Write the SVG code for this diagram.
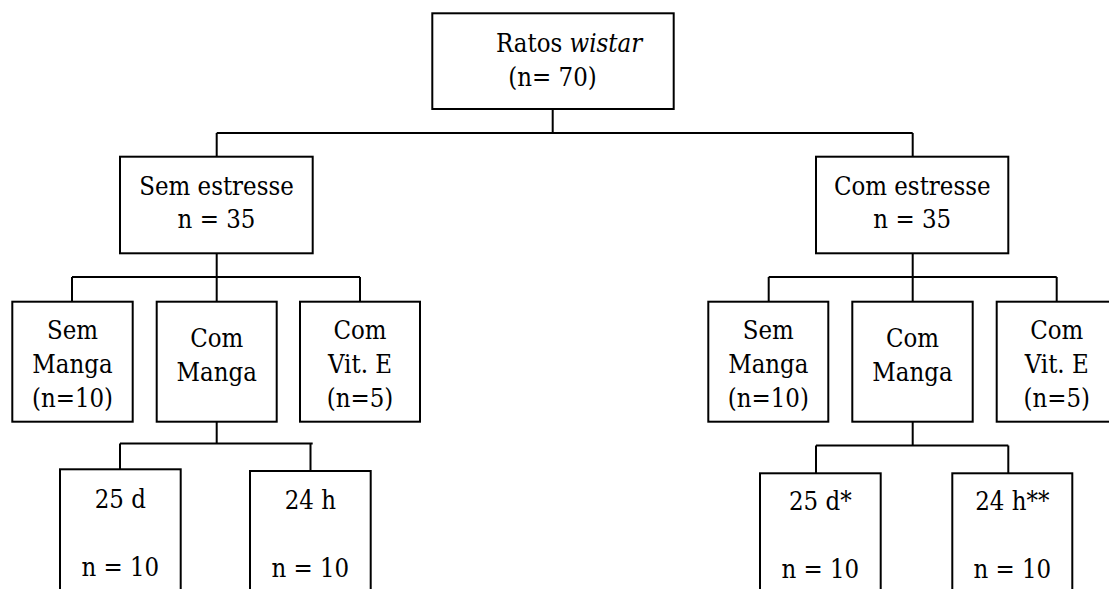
<svg xmlns="http://www.w3.org/2000/svg" width="1109" height="589" viewBox="0 0 1109 589">
<style>
.box{fill:#fff;stroke:#000;stroke-width:2}
.ln{fill:none;stroke:#000;stroke-width:2}
text{font-family:'DejaVu Serif Condensed','DejaVu Serif',serif;font-stretch:condensed;font-size:25.5px;fill:#000}
.c{text-anchor:middle}
</style>
<rect width="1109" height="589" fill="#fff"/>
<g id="connectors">
<path class="ln" d="M552.7 109V133M216.7 133H912.7M216.7 133V157M912.7 133V157"/>
<path class="ln" d="M216.7 253V277M72 277H360M72 277V302M216.7 277V302M360 277V302"/>
<path class="ln" d="M912.7 253V277M768.7 277H1056.7M768.7 277V302M912.7 277V302M1056.7 277V302"/>
<path class="ln" d="M216.7 422V443.5M120 443.5H312.7M120 443.5V469.5M310.5 443.5V471"/>
<path class="ln" d="M912.7 422V445.5M816 445.5H1008.3M816 445.5V473.5M1008.3 445.5V473.5"/>
</g>
<g id="root">
<rect class="box" x="432.3" y="13.3" width="241.4" height="95.7"/>
<text x="496" y="51.7">Ratos <tspan font-style="italic">wistar</tspan></text>
<text x="508.3" y="86">(n= 70)</text>
</g>
<g id="sem-estresse">
<rect class="box" x="120" y="156.7" width="192.7" height="96.6"/>
<text class="c" x="216.5" y="195">Sem estresse</text>
<text class="c" x="216.5" y="227.5">n = 35</text>
</g>
<g id="com-estresse">
<rect class="box" x="816" y="156.7" width="192.3" height="96.6"/>
<text class="c" x="912.2" y="195">Com estresse</text>
<text class="c" x="912.2" y="227.5">n = 35</text>
</g>
<g id="l-sem-manga">
<rect class="box" x="12.3" y="301.7" width="120.4" height="120"/>
<text class="c" x="72.5" y="339">Sem</text>
<text class="c" x="72.5" y="373">Manga</text>
<text class="c" x="72.5" y="407">(n=10)</text>
</g>
<g id="l-com-manga">
<rect class="box" x="156.7" y="301.7" width="120" height="120"/>
<text class="c" x="216.7" y="347">Com</text>
<text class="c" x="216.7" y="381">Manga</text>
</g>
<g id="l-com-vite">
<rect class="box" x="300" y="301.7" width="120" height="120"/>
<text class="c" x="360" y="339">Com</text>
<text class="c" x="360" y="373">Vit. E</text>
<text class="c" x="360" y="407">(n=5)</text>
</g>
<g id="r-sem-manga">
<rect class="box" x="708.3" y="301.7" width="120" height="120"/>
<text class="c" x="768.3" y="339">Sem</text>
<text class="c" x="768.3" y="373">Manga</text>
<text class="c" x="768.3" y="407">(n=10)</text>
</g>
<g id="r-com-manga">
<rect class="box" x="852.3" y="301.7" width="120.4" height="120"/>
<text class="c" x="912.5" y="347">Com</text>
<text class="c" x="912.5" y="381">Manga</text>
</g>
<g id="r-com-vite">
<rect class="box" x="996.7" y="301.7" width="120" height="120"/>
<text class="c" x="1056.7" y="339">Com</text>
<text class="c" x="1056.7" y="373">Vit. E</text>
<text class="c" x="1056.7" y="407">(n=5)</text>
</g>
<g id="l-25d">
<rect class="box" x="60" y="469.3" width="120.7" height="130"/>
<text class="c" x="120.3" y="508">25 d</text>
<text class="c" x="120.3" y="576">n = 10</text>
</g>
<g id="l-24h">
<rect class="box" x="250" y="471" width="120.7" height="130"/>
<text class="c" x="310.3" y="509">24 h</text>
<text class="c" x="310.3" y="577">n = 10</text>
</g>
<g id="r-25d">
<rect class="box" x="760" y="473.3" width="120.7" height="130"/>
<text class="c" x="820.3" y="510">25 d*</text>
<text class="c" x="820.3" y="578">n = 10</text>
</g>
<g id="r-24h">
<rect class="box" x="952.3" y="473.3" width="120" height="130"/>
<text class="c" x="1012.3" y="510">24 h**</text>
<text class="c" x="1012.3" y="578">n = 10</text>
</g>
</svg>
